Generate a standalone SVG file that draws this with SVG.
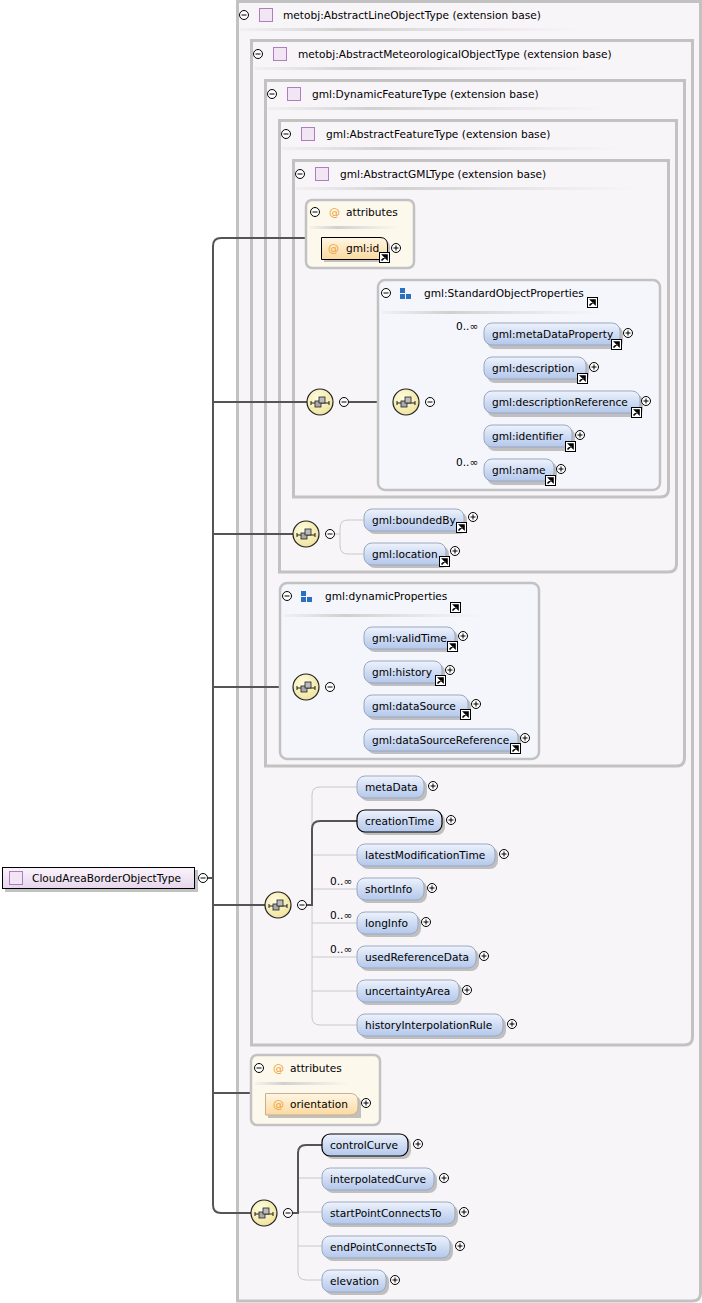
<svg xmlns="http://www.w3.org/2000/svg" xmlns:xlink="http://www.w3.org/1999/xlink" width="702" height="1303" viewBox="0 0 702 1303">
<defs>
<linearGradient id="gEl" x1="0" y1="0" x2="0" y2="1"><stop offset="0" stop-color="#eef3fc"/><stop offset="0.5" stop-color="#cfdcf3"/><stop offset="1" stop-color="#b4c8ec"/></linearGradient>
<linearGradient id="gAt" x1="0" y1="0" x2="0" y2="1"><stop offset="0" stop-color="#fff6e4"/><stop offset="1" stop-color="#fbd9a0"/></linearGradient>
<linearGradient id="gRoot" x1="0" y1="0" x2="0" y2="1"><stop offset="0" stop-color="#faf4fb"/><stop offset="1" stop-color="#e6d6ec"/></linearGradient>
<radialGradient id="gSeq" cx="0.4" cy="0.35" r="0.7"><stop offset="0" stop-color="#fffde0"/><stop offset="1" stop-color="#efe29a"/></radialGradient>
<linearGradient id="gUl" x1="0" y1="0" x2="1" y2="0"><stop offset="0" stop-color="#d8d8d8" stop-opacity="0.2"/><stop offset="0.3" stop-color="#d0d0d0"/><stop offset="1" stop-color="#d8d8d8" stop-opacity="0"/></linearGradient>
<g id="minus"><circle r="4.5" fill="#fff" stroke="#000" stroke-width="1"/><path d="M-2.5,0H2.5" stroke="#000" stroke-width="1"/></g>
<g id="plus"><circle r="4.5" fill="#fff" stroke="#000" stroke-width="1"/><path d="M-2.5,0H2.5M0,-2.5V2.5" stroke="#000" stroke-width="1"/></g>
<g id="link"><rect x="0.5" y="0.5" width="10" height="10" fill="#fff" stroke="#000" stroke-width="1"/><path d="M2.5,8.5L7.5,3.5M4,3L8,3L8,7Z" stroke="#000" stroke-width="1.6" fill="#000"/></g>
<g id="sq"><rect x="0.5" y="0.5" width="13" height="13" fill="#f2e6f4" stroke="#b07cc0" stroke-width="1"/></g>
<g id="blue"><rect x="0" y="0" width="5" height="5" fill="#2a6fc0"/><rect x="0" y="6" width="5" height="5" fill="#2a6fc0"/><rect x="6" y="6" width="5" height="5" fill="#2a6fc0"/></g>
<g id="seq"><circle r="13" fill="url(#gSeq)" stroke="#222" stroke-width="1.2"/><path d="M-9,1H9M-9,-1V3M9,-1V3" stroke="#222" stroke-width="1" fill="none"/><rect x="-5" y="-1" width="6" height="6" fill="#aaa" stroke="#222" stroke-width="0.8"/><rect x="-1" y="-5" width="6" height="6" fill="#bbb" stroke="#222" stroke-width="0.8"/></g>
<style>
text{font-family:"DejaVu Sans","Liberation Sans",sans-serif;font-size:10.6px;fill:#000}
.box{fill:#f8f5f9;stroke:#c2c2c2;stroke-width:3}
.attbox{fill:#fdf8ec;stroke:#c2c2c2;stroke-width:2.5}
.grpbox{fill:#f4f6fb;stroke:#c2c2c2;stroke-width:2.5}
.el{fill:url(#gEl);stroke:#9aa8c0;stroke-width:1}
.req{fill:url(#gEl);stroke:#000;stroke-width:1.2}
.att{fill:url(#gAt);stroke:#c8b090;stroke-width:1}
.attr{fill:url(#gAt);stroke:#000;stroke-width:1}
.sh{fill:#a8a8a8;opacity:0.7}
.ul{fill:url(#gUl)}
.at{fill:#f0a030;font-size:11px}
.main{fill:none;stroke:#555;stroke-width:2}
.br{fill:none;stroke:#c8c8c8;stroke-width:1}
.brd{fill:none;stroke:#555;stroke-width:2}
</style>
</defs>
<rect width="702" height="1303" fill="#fff"/>

<g id="box-AbstractLineObjectType">
<path class="box" d="M237.5,1.5H700.5V1293Q700.5,1301 692.5,1301H237.5Z"/>
<use href="#minus" x="244" y="15"/><use href="#sq" x="259" y="8"/>
<text x="283" y="19">metobj:AbstractLineObjectType (extension base)</text>
<rect class="ul" x="240" y="28" width="340" height="3"/>
</g>
<g id="box-AbstractMeteorologicalObjectType">
<path class="box" d="M251.5,40.5H692.5V1037Q692.5,1045 684.5,1045H251.5Z"/>
<use href="#minus" x="258" y="54"/><use href="#sq" x="273" y="47"/>
<text x="298" y="58">metobj:AbstractMeteorologicalObjectType (extension base)</text>
<rect class="ul" x="254" y="67" width="340" height="3"/>
</g>
<g id="box-DynamicFeatureType">
<path class="box" d="M265.5,80.5H684.5V758Q684.5,766 676.5,766H265.5Z"/>
<use href="#minus" x="272" y="94"/><use href="#sq" x="287" y="87"/>
<text x="312" y="98">gml:DynamicFeatureType (extension base)</text>
<rect class="ul" x="268" y="107" width="340" height="3"/>
</g>
<g id="box-AbstractFeatureType">
<path class="box" d="M279.5,120.5H676.5V564Q676.5,572 668.5,572H279.5Z"/>
<use href="#minus" x="286" y="134"/><use href="#sq" x="301" y="127"/>
<text x="326" y="138">gml:AbstractFeatureType (extension base)</text>
<rect class="ul" x="282" y="147" width="340" height="3"/>
</g>
<g id="box-AbstractGMLType">
<path class="box" d="M293.5,160.5H668.5V489Q668.5,497 660.5,497H293.5Z"/>
<use href="#minus" x="300" y="174"/><use href="#sq" x="315" y="167"/>
<text x="340" y="178">gml:AbstractGMLType (extension base)</text>
<rect class="ul" x="296" y="187" width="340" height="3"/>
</g>

<g id="connectors">
<path class="main" d="M208,878H213"/>
<path class="main" d="M306,238H221Q213,238 213,246V1205Q213,1213 221,1213H251"/>
<path class="main" d="M213,402H307"/>
<path class="main" d="M213,534H293"/>
<path class="main" d="M213,687H293"/>
<path class="main" d="M213,905H265"/>
<path class="main" d="M213,1093H251"/>
<path class="main" d="M349,402H393"/>
<path class="br" d="M435,402H439M484,334H447Q439,334 439,342V462Q439,470 447,470H484M439,368H484M439,402H484M439,436H484"/>
<path class="br" d="M335,534H340M364,520H348Q340,520 340,528V546Q340,554 348,554H364"/>
<path class="br" d="M335,687H340M364,638H348Q340,638 340,646V732Q340,740 348,740H364M340,672H364M340,706H364"/>
<path class="br" d="M357,787H320Q312,787 312,795V1017Q312,1025 320,1025H357M312,855H357M312,889H357M312,923H357M312,957H357M312,991H357"/>
<path class="brd" d="M307,905H312V829Q312,821 320,821H357"/>
<path class="br" d="M298,1160V1272Q298,1280 306,1280H322M298,1178H322M298,1212H322M298,1246H322"/>
<path class="brd" d="M293,1213H298V1153Q298,1145 306,1145H322"/>
</g>

<g id="root">
<rect class="sh" x="5" y="870" width="193" height="22"/>
<rect x="2.5" y="867.5" width="192" height="21" fill="url(#gRoot)" stroke="#000" stroke-width="1"/>
<use href="#sq" x="9" y="871"/>
<text x="32" y="882">CloudAreaBorderObjectType</text>
<use href="#minus" x="203" y="878"/>
</g>

<g id="attributes-1">
<rect class="attbox" x="306" y="200" width="108" height="68" rx="6"/>
<use href="#minus" x="315" y="212"/><text class="at" x="329" y="216">@</text>
<text x="346" y="216">attributes</text>
<rect class="ul" x="310" y="226" width="90" height="3"/>
<path class="sh" d="M324,240H382Q390,240 390,248V262H324Z"/>
<path class="attr" d="M321.5,237.5H380Q387.5,237.5 387.5,245V259.5H321.5Z"/>
<text class="at" x="328" y="252">@</text><text x="346" y="252">gml:id</text>
<use href="#link" x="379" y="252"/><use href="#plus" x="396" y="248"/>
</g>

<g id="group-StandardObjectProperties">
<rect class="grpbox" x="378" y="280" width="282" height="210" rx="7"/>
<use href="#minus" x="386" y="293"/><use href="#blue" x="400" y="288"/>
<text x="424" y="297">gml:StandardObjectProperties</text>
<use href="#link" x="587" y="297"/>
<rect class="ul" x="382" y="311" width="220" height="3"/>
</g>

<g id="seq-1"><use href="#seq" x="320" y="402"/><use href="#minus" x="344" y="402"/></g>
<g id="seq-2"><use href="#seq" x="406" y="402"/><use href="#minus" x="430" y="402"/></g>

<g id="el-metaDataProperty"><rect class="sh" x="487" y="326" width="136" height="23" rx="8"/><rect class="el" x="484" y="323" width="136" height="22" rx="8"/><text x="492" y="338">gml:metaDataProperty</text><text x="456" y="330">0..∞</text><use href="#link" x="611" y="339"/><use href="#plus" x="628" y="333"/></g>
<g id="el-description"><rect class="sh" x="487" y="360" width="102" height="23" rx="8"/><rect class="el" x="484" y="357" width="102" height="22" rx="8"/><text x="492" y="372">gml:description</text><use href="#link" x="577" y="373"/><use href="#plus" x="594" y="367"/></g>
<g id="el-descriptionReference"><rect class="sh" x="487" y="394" width="156" height="23" rx="8"/><rect class="el" x="484" y="391" width="156" height="22" rx="8"/><text x="492" y="406">gml:descriptionReference</text><use href="#link" x="631" y="407"/><use href="#plus" x="646" y="401"/></g>
<g id="el-identifier"><rect class="sh" x="487" y="428" width="88" height="23" rx="8"/><rect class="el" x="484" y="425" width="88" height="22" rx="8"/><text x="492" y="440">gml:identifier</text><use href="#link" x="565" y="441"/><use href="#plus" x="580" y="435"/></g>
<g id="el-name"><rect class="sh" x="487" y="462" width="70" height="23" rx="8"/><rect class="el" x="484" y="459" width="70" height="22" rx="8"/><text x="492" y="474">gml:name</text><text x="456" y="466">0..∞</text><use href="#link" x="545" y="475"/><use href="#plus" x="561" y="469"/></g>

<g id="seq-3"><use href="#seq" x="306" y="534"/><use href="#minus" x="330" y="534"/></g>
<g id="el-boundedBy"><rect class="sh" x="367" y="512" width="100" height="22" rx="8"/><rect class="el" x="364" y="509" width="100" height="22" rx="8"/><text x="372" y="524">gml:boundedBy</text><use href="#link" x="456" y="522"/><use href="#plus" x="473" y="517"/></g>
<g id="el-location"><rect class="sh" x="367" y="546" width="82" height="22" rx="8"/><rect class="el" x="364" y="543" width="82" height="22" rx="8"/><text x="372" y="558">gml:location</text><use href="#link" x="439" y="556"/><use href="#plus" x="455" y="551"/></g>

<g id="group-dynamicProperties">
<rect class="grpbox" x="280" y="583" width="259" height="176" rx="7"/>
<use href="#minus" x="287" y="596"/><use href="#blue" x="301" y="591"/>
<text x="325" y="600">gml:dynamicProperties</text>
<use href="#link" x="450" y="602"/>
<rect class="ul" x="284" y="614" width="200" height="3"/>
</g>
<g id="seq-4"><use href="#seq" x="306" y="687"/><use href="#minus" x="330" y="687"/></g>
<g id="el-validTime"><rect class="sh" x="367" y="630" width="91" height="22" rx="8"/><rect class="el" x="364" y="627" width="91" height="22" rx="8"/><text x="372" y="642">gml:validTime</text><use href="#link" x="447" y="641"/><use href="#plus" x="463" y="636"/></g>
<g id="el-history"><rect class="sh" x="367" y="664" width="78" height="22" rx="8"/><rect class="el" x="364" y="661" width="78" height="22" rx="8"/><text x="372" y="676">gml:history</text><use href="#link" x="435" y="675"/><use href="#plus" x="450" y="670"/></g>
<g id="el-dataSource"><rect class="sh" x="367" y="698" width="104" height="22" rx="8"/><rect class="el" x="364" y="695" width="104" height="22" rx="8"/><text x="372" y="710">gml:dataSource</text><use href="#link" x="460" y="709"/><use href="#plus" x="476" y="704"/></g>
<g id="el-dataSourceReference"><rect class="sh" x="367" y="732" width="154" height="22" rx="8"/><rect class="el" x="364" y="729" width="154" height="22" rx="8"/><text x="372" y="744">gml:dataSourceReference</text><use href="#link" x="510" y="743"/><use href="#plus" x="525" y="738"/></g>

<g id="seq-5"><use href="#seq" x="278" y="905"/><use href="#minus" x="302" y="905"/></g>
<g id="el-metaData"><rect class="sh" x="360" y="779" width="67" height="22" rx="8"/><rect class="el" x="357" y="776" width="67" height="22" rx="8"/><text x="365" y="791">metaData</text><use href="#plus" x="433" y="786"/></g>
<g id="el-creationTime"><rect class="sh" x="360" y="813" width="85" height="22" rx="8"/><rect class="req" x="357" y="810" width="85" height="22" rx="8"/><text x="365" y="825">creationTime</text><use href="#plus" x="451" y="820"/></g>
<g id="el-latestModificationTime"><rect class="sh" x="360" y="847" width="138" height="22" rx="8"/><rect class="el" x="357" y="844" width="138" height="22" rx="8"/><text x="365" y="859">latestModificationTime</text><use href="#plus" x="504" y="854"/></g>
<g id="el-shortInfo"><rect class="sh" x="360" y="881" width="67" height="22" rx="8"/><rect class="el" x="357" y="878" width="67" height="22" rx="8"/><text x="365" y="893">shortInfo</text><text x="330" y="885">0..∞</text><use href="#plus" x="432" y="888"/></g>
<g id="el-longInfo"><rect class="sh" x="360" y="915" width="61" height="22" rx="8"/><rect class="el" x="357" y="912" width="61" height="22" rx="8"/><text x="365" y="927">longInfo</text><text x="330" y="919">0..∞</text><use href="#plus" x="426" y="922"/></g>
<g id="el-usedReferenceData"><rect class="sh" x="360" y="949" width="119" height="22" rx="8"/><rect class="el" x="357" y="946" width="119" height="22" rx="8"/><text x="365" y="961">usedReferenceData</text><text x="330" y="953">0..∞</text><use href="#plus" x="484" y="956"/></g>
<g id="el-uncertaintyArea"><rect class="sh" x="360" y="983" width="102" height="22" rx="8"/><rect class="el" x="357" y="980" width="102" height="22" rx="8"/><text x="365" y="995">uncertaintyArea</text><use href="#plus" x="467" y="990"/></g>
<g id="el-historyInterpolationRule"><rect class="sh" x="360" y="1017" width="146" height="22" rx="8"/><rect class="el" x="357" y="1014" width="146" height="22" rx="8"/><text x="365" y="1029">historyInterpolationRule</text><use href="#plus" x="512" y="1024"/></g>

<g id="attributes-2">
<rect class="attbox" x="251" y="1055" width="129" height="70" rx="6"/>
<use href="#minus" x="259" y="1068"/><text class="at" x="273" y="1072">@</text>
<text x="290" y="1072">attributes</text>
<rect class="ul" x="255" y="1082" width="95" height="3"/>
</g>
<g id="attr-orientation"><path class="sh" d="M268,1096H353Q361,1096 361,1104V1118H268Z"/><path class="att" d="M265.5,1093.5H350Q358,1093.5 358,1101V1107Q358,1115 350,1115H265.5Z"/><text class="at" x="273" y="1108">@</text><text x="290" y="1108">orientation</text><use href="#plus" x="366" y="1103"/></g>

<g id="seq-6"><use href="#seq" x="264" y="1213"/><use href="#minus" x="288" y="1213"/></g>
<g id="el-controlCurve"><rect class="sh" x="325" y="1137" width="86" height="22" rx="8"/><rect class="req" x="322" y="1134" width="86" height="22" rx="8"/><text x="330" y="1149">controlCurve</text><use href="#plus" x="418" y="1144"/></g>
<g id="el-interpolatedCurve"><rect class="sh" x="325" y="1171" width="112" height="22" rx="8"/><rect class="el" x="322" y="1168" width="112" height="22" rx="8"/><text x="330" y="1183">interpolatedCurve</text><use href="#plus" x="444" y="1178"/></g>
<g id="el-startPointConnectsTo"><rect class="sh" x="325" y="1205" width="133" height="22" rx="8"/><rect class="el" x="322" y="1202" width="133" height="22" rx="8"/><text x="330" y="1217">startPointConnectsTo</text><use href="#plus" x="464" y="1212"/></g>
<g id="el-endPointConnectsTo"><rect class="sh" x="325" y="1239" width="128" height="22" rx="8"/><rect class="el" x="322" y="1236" width="128" height="22" rx="8"/><text x="330" y="1251">endPointConnectsTo</text><use href="#plus" x="460" y="1246"/></g>
<g id="el-elevation"><rect class="sh" x="325" y="1273" width="64" height="22" rx="8"/><rect class="el" x="322" y="1270" width="64" height="22" rx="8"/><text x="330" y="1285">elevation</text><use href="#plus" x="395" y="1280"/></g>
</svg>
